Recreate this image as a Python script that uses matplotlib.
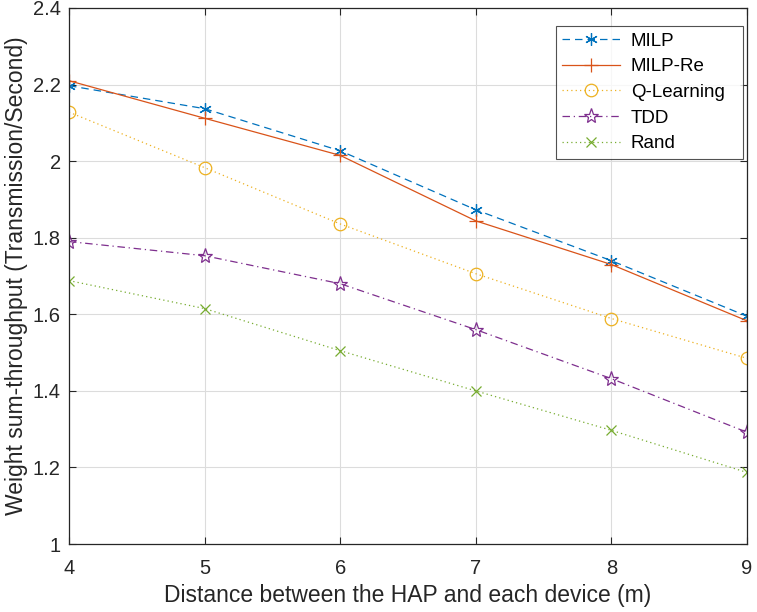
import matplotlib
matplotlib.use("Agg")
import matplotlib.pyplot as plt

plt.rcParams['font.family'] = ['Liberation Sans', 'DejaVu Sans']

x = [4, 5, 6, 7, 8, 9]
milp = [2.197, 2.137, 2.027, 1.873, 1.740, 1.595]
milp_re = [2.210, 2.112, 2.015, 1.844, 1.730, 1.583]
qlearn = [2.128, 1.983, 1.836, 1.706, 1.589, 1.485]
tdd = [1.790, 1.753, 1.680, 1.560, 1.432, 1.292]
rand = [1.688, 1.615, 1.505, 1.400, 1.297, 1.187]

xticks = [4, 5, 6, 7, 8, 9]
yticks = [1, 1.2, 1.4, 1.6, 1.8, 2, 2.2, 2.4]
ytick_labels = ['1', '1.2', '1.4', '1.6', '1.8', '2', '2.2', '2.4']

fig = plt.figure(figsize=(7.57, 6.12), dpi=100)
ax = fig.add_axes([0.0911, 0.111, 0.8957, 0.876])

ax.plot(x, milp, linestyle=(0, (6, 4)), color='#0072BD', lw=0.9,
        marker=(6, 2, 0), ms=9, mew=0.9, label='MILP')
ax.plot(x, milp_re, linestyle='-', color='#D95319', lw=0.9,
        marker='+', ms=10.5, mew=0.9, label='MILP-Re')
ax.plot(x, qlearn, linestyle=(0, (1, 2.5)), color='#EDB120', lw=0.9,
        marker='o', ms=9, mfc='none', mew=0.9, label='Q-Learning')
ax.plot(x, tdd, linestyle=(0, (6, 3, 1, 3)), color='#7E2F8E', lw=0.9,
        marker='*', ms=11, mfc='none', mew=0.9, label='TDD')
ax.plot(x, rand, linestyle=(0, (1, 2.5)), color='#77AC30', lw=0.9,
        marker='x', ms=7.5, mew=0.9, label='Rand')

ax.set_xlim(4, 9)
ax.set_ylim(1, 2.4)
ax.set_xticks(xticks)
ax.set_yticks(yticks)
ax.set_yticklabels(ytick_labels)
ax.grid(True, color='#dcdcdc', lw=0.8)
ax.set_axisbelow(True)
ax.tick_params(direction='in', top=True, right=True, labelsize=14.5,
               length=5, width=0.8, colors='#262626')
ax.tick_params(axis='x', pad=11)
ax.tick_params(axis='y', pad=6)
for s in ax.spines.values():
    s.set_color('#262626')
    s.set_linewidth(0.9)

ax.set_xlabel('Distance between the HAP and each device (m)', fontsize=16.5,
              color='#262626', labelpad=4)
ax.set_ylabel('Weight sum-throughput (Transmission/Second)', fontsize=16.5,
              color='#262626', labelpad=3)

leg = ax.legend(loc='upper left', bbox_to_anchor=(0.718, 0.5, 0.276, 0.466),
                mode='expand', fontsize=13.5,
                frameon=True, fancybox=False, edgecolor='#262626',
                handlelength=3.1, borderpad=0.35, labelspacing=0.45,
                handletextpad=0.55, borderaxespad=0)
leg.get_frame().set_linewidth(0.8)

fig.savefig('out.png', dpi=100)
